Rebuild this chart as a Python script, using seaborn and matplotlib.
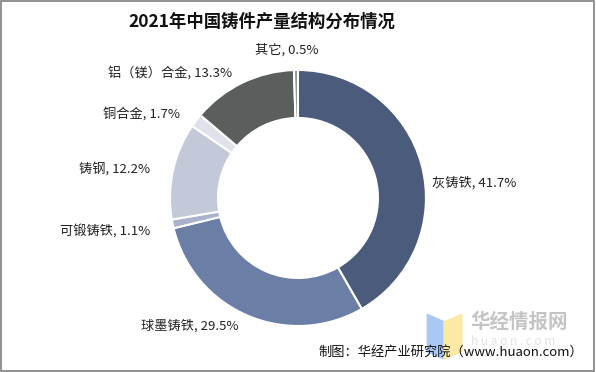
import matplotlib
matplotlib.use('Agg')
import matplotlib.pyplot as plt
import matplotlib.patches as mpatches
import seaborn as sns

# data
categories = ['灰铸铁', '球墨铸铁', '可锻铸铁', '铸钢', '铜合金', '铝（镁）合金', '其它']
shares = [41.7, 29.5, 1.1, 12.2, 1.7, 13.3, 0.5]
colors = ['#4b5b7c', '#6a7ea6', '#a8b2ca', '#c4c9da', '#dfe2ea', '#5a5f5d', '#8d918f']

sns.set_theme(style='white')
plt.rcParams['font.family'] = ['Noto Sans CJK SC', 'DejaVu Sans']

fig = plt.figure(figsize=(5.96, 3.72), dpi=100)
ax = fig.add_axes([0.2852, 0.1237, 0.4295, 0.6882])

labels = [f'{c}, {v}%' for c, v in zip(categories, shares)]
wedges, texts = ax.pie(shares, colors=colors, labels=labels, startangle=90,
                       counterclock=False, radius=1,
                       wedgeprops=dict(width=0.375, edgecolor='white', linewidth=1.5),
                       textprops=dict(fontsize=9.5, color='#222222'))
ax.set_xlim(-1, 1)
ax.set_ylim(-1, 1)

# label placement like the original (Excel best fit)
label_pos = [((1.047, 0.117), 'left'), ((-0.844, -1.0), 'center'),
             ((-1.156, -0.266), 'right'), ((-1.156, 0.219), 'right'),
             ((-0.922, 0.656), 'right'), ((-0.516, 0.977), 'right'),
             ((-0.086, 1.156), 'center')]
for t, (p, ha) in zip(texts, label_pos):
    t.set_position(p)
    t.set_ha(ha)
    t.set_va('center')

fig.text(0.44, 0.941, '2021年中国铸件产量结构分布情况', ha='center', va='center',
         fontsize=12.5, fontweight='bold', color='#111111')

# watermark logo
fig.patches.append(mpatches.Polygon([(0.717, 0.155), (0.745, 0.135), (0.745, 0.035), (0.717, 0.055)],
                                    closed=True, transform=fig.transFigure, color='#a9c8f3', zorder=0))
fig.patches.append(mpatches.Polygon([(0.745, 0.135), (0.775, 0.155), (0.775, 0.055), (0.745, 0.035)],
                                    closed=True, transform=fig.transFigure, color='#fbeaa6', zorder=0))
fig.text(0.79, 0.135, '华经情报网', fontsize=14, fontweight='bold', color='#c4c4c4', va='center', zorder=0)
fig.text(0.79, 0.082, 'h u a o n . c o m', fontsize=8.5, color='#e2e2e2', va='center', zorder=0)

fig.text(0.978, 0.053, '制图：华经产业研究院（www.huaon.com）', ha='right', va='center',
         fontsize=9.5, color='#111111')

fig.patches.append(mpatches.Rectangle((0.002, 0.003), 0.994, 0.994, transform=fig.transFigure,
                                      fill=False, edgecolor='#7f7f7f', linewidth=1.2))

fig.savefig('out.png', dpi=100)
